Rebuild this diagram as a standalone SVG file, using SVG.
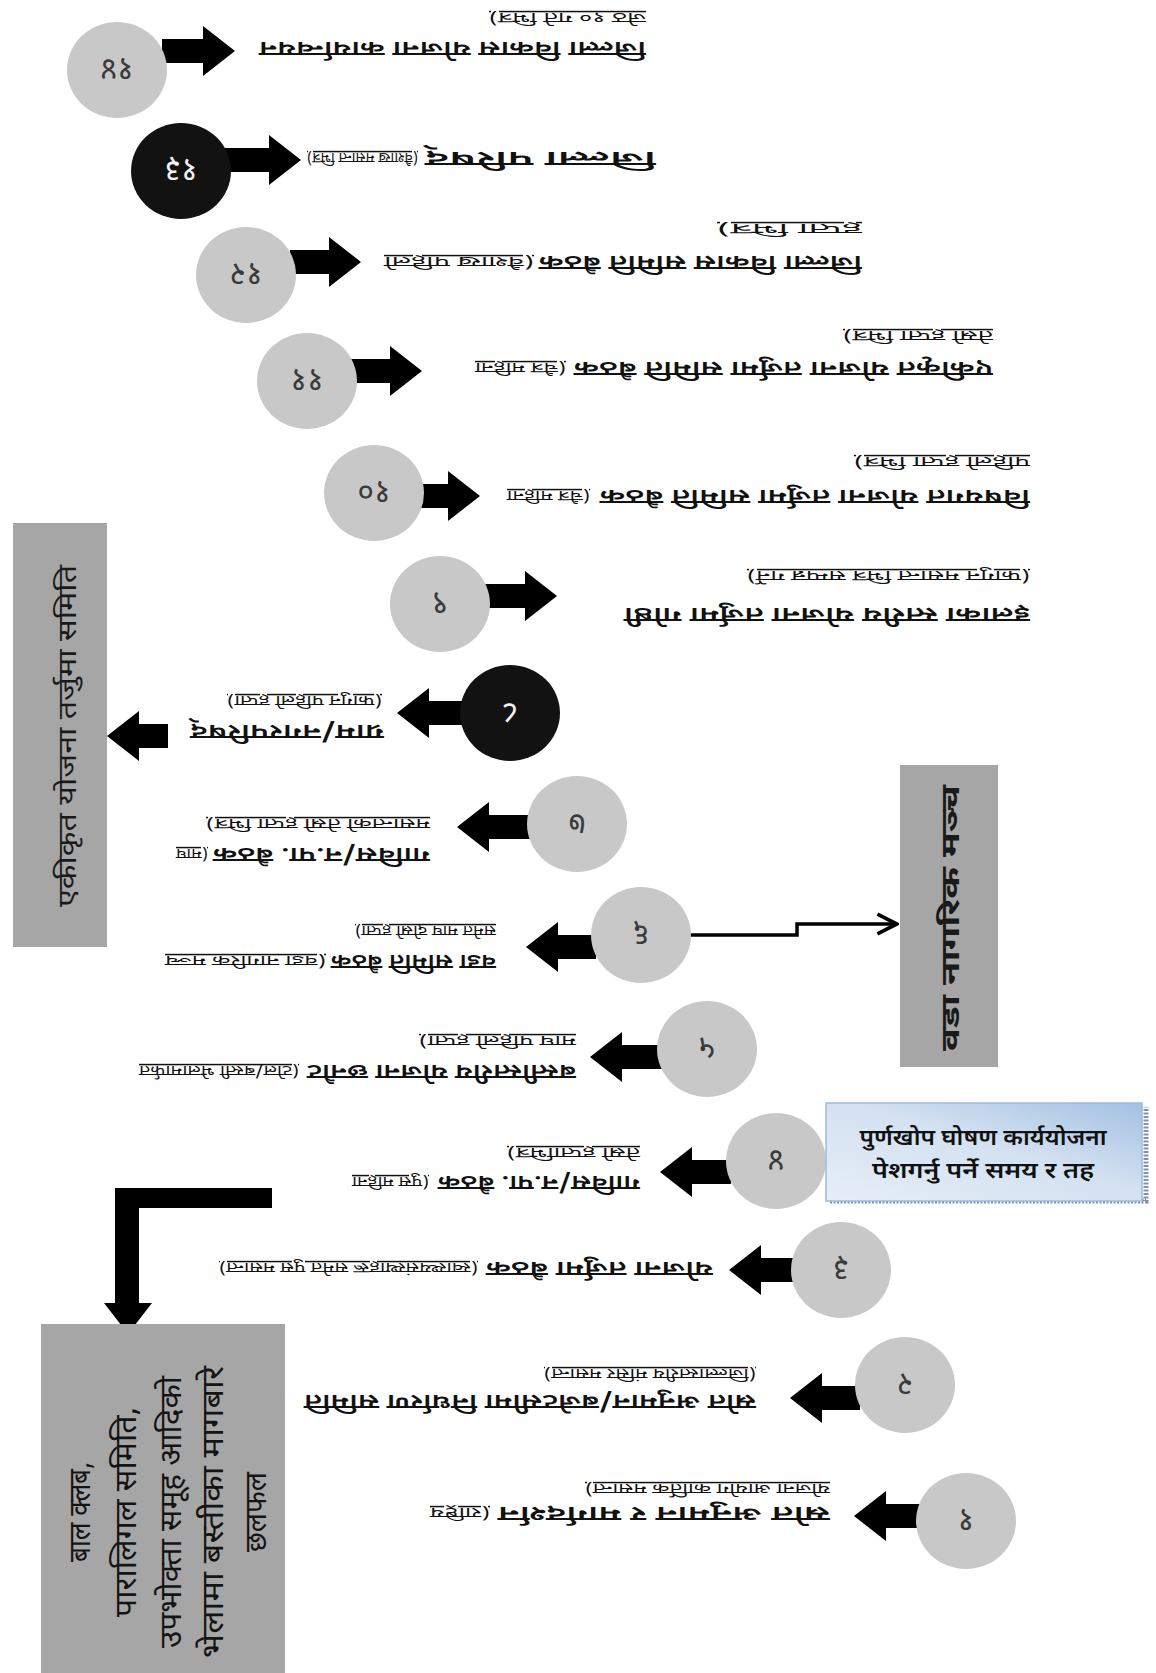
<svg xmlns="http://www.w3.org/2000/svg" width="1156" height="1673" viewBox="0 0 1156 1673">
<defs>
<style>
.dv{font-family:'Noto Sans Devanagari','Noto Serif Devanagari','Lohit Devanagari','FreeSans','Noto Sans',sans-serif;fill:#111}
.m{font-size:21px;font-weight:600}
.s{font-size:15px;text-decoration:underline}
.num{font-size:32px;text-anchor:middle;fill:#3a3a3a}
.numw{font-size:32px;text-anchor:middle;fill:#f2f2f2}
.c{fill:#c8c8c8}
.cb{fill:#121212}
.arr{fill:#000}
.box{fill:#a6a6a6}
.bt{font-size:26px;text-anchor:middle;fill:#1a1a1a}
.bc{font-size:30px;text-anchor:middle;fill:#141414}
</style>
<linearGradient id="blue" x1="0" y1="1" x2="1" y2="0">
<stop offset="0" stop-color="#e6eef7"/>
<stop offset="0.55" stop-color="#d3e1f1"/>
<stop offset="1" stop-color="#a3c0e3"/>
</linearGradient>
<marker id="chev" viewBox="0 0 20 20" refX="18" refY="10" markerWidth="7" markerHeight="7" orient="auto" markerUnits="strokeWidth">
<path d="M2,2 L18,10 L2,18" fill="none" stroke="#000" stroke-width="3"/>
</marker>
</defs>
<rect width="1156" height="1673" fill="#fff"/>

<g id="connectors">
<path class="arr" d="M854,1516 l32,-25 v13 H920 v24 H886 v13 Z"/>
<path class="arr" d="M790,1398 l32,-25 v13 H860 v24 H822 v13 Z"/>
<path class="arr" d="M729,1270 l32,-25 v13 H796 v24 H761 v13 Z"/>
<path class="arr" d="M660,1172 l32,-25 v13 H731 v24 H692 v13 Z"/>
<path class="arr" d="M590,1057 l32,-25 v13 H662 v24 H622 v13 Z"/>
<path class="arr" d="M526,947 l32,-25 v13 H596 v24 H558 v13 Z"/>
<path class="arr" d="M457,827 l32,-25 v13 H532 v24 H489 v13 Z"/>
<path class="arr" d="M397,713 l32,-25 v13 H465 v24 H429 v13 Z"/>
<path class="arr" d="M107,736 l32,-25 v13 H168 v24 H139 v13 Z"/>
<path class="arr" d="M557,596 l-32,-25 v13 H485 v24 H525 v13 Z"/>
<path class="arr" d="M480,496 l-32,-25 v13 H418 v24 H448 v13 Z"/>
<path class="arr" d="M422,371 l-32,-25 v13 H350 v24 H390 v13 Z"/>
<path class="arr" d="M361,262 l-32,-25 v13 H290 v24 H329 v13 Z"/>
<path class="arr" d="M301,160 l-32,-25 v13 H225 v24 H269 v13 Z"/>
<path class="arr" d="M235,51 l-32,-25 v13 H162 v24 H203 v13 Z"/>
<path d="M690,935 H797 V924 H897" fill="none" stroke="#000" stroke-width="3.5" marker-end="url(#chev)"/>
<path class="arr" d="M272,1188 H115 V1303 H104 L128,1334 L152,1303 H139 V1208 H272 Z"/>
</g>

<g id="step1">
<ellipse class="c" cx="966" cy="1521" rx="50" ry="48"/>
<text class="dv num" x="966" y="1532" transform="rotate(180 966 1521)">१</text>
<text class="dv m" x="326" y="166.5" textLength="332" lengthAdjust="spacingAndGlyphs" transform="rotate(180 578 836.5)">स्रोत अनुमान र मार्गदर्शन</text>
<text class="dv s" x="666" y="164.7" textLength="60" lengthAdjust="spacingAndGlyphs" transform="rotate(180 578 836.5)">(राष्ट्रिय</text>
<text class="dv s" x="326" y="188.7" textLength="245" lengthAdjust="spacingAndGlyphs" transform="rotate(180 578 836.5)">योजना आयोग कार्तिक मसान्त)</text>
</g>

<g id="step2">
<ellipse class="c" cx="905" cy="1385" rx="50" ry="48"/>
<text class="dv num" x="905" y="1396" transform="rotate(180 905 1385)">२</text>
<text class="dv m" x="400" y="278.5" textLength="452" lengthAdjust="spacingAndGlyphs" transform="rotate(180 578 836.5)">स्रोत अनुमान/बजेटसीमा निर्धारण समिति</text>
<text class="dv s" x="400" y="303.7" textLength="212" lengthAdjust="spacingAndGlyphs" transform="rotate(180 578 836.5)">(जिल्लास्तरीय मंसिर मसान्त)</text>
</g>

<g id="step3">
<ellipse class="c" cx="841" cy="1270" rx="50" ry="48"/>
<text class="dv num" x="841" y="1281" transform="rotate(180 841 1270)">३</text>
<text class="dv m" x="443" y="411.5" textLength="227" lengthAdjust="spacingAndGlyphs" transform="rotate(180 578 836.5)">योजना तर्जुमा बैठक</text>
<text class="dv s" x="678" y="409.7" textLength="259" lengthAdjust="spacingAndGlyphs" transform="rotate(180 578 836.5)">(स्वास्थ्यसंस्थाहरू समेत पुस मसान्त)</text>
</g>

<g id="step4">
<ellipse class="c" cx="776" cy="1161" rx="50" ry="48"/>
<text class="dv num" x="776" y="1172" transform="rotate(180 776 1161)">४</text>
<text class="dv m" x="516" y="497.5" textLength="202" lengthAdjust="spacingAndGlyphs" transform="rotate(180 578 836.5)">गाविस/न.पा. बैठक</text>
<text class="dv s" x="727" y="495.7" textLength="77" lengthAdjust="spacingAndGlyphs" transform="rotate(180 578 836.5)">(पुस महिना</text>
<text class="dv s" x="516" y="524.7" textLength="133" lengthAdjust="spacingAndGlyphs" transform="rotate(180 578 836.5)">तेस्रो हप्ताभित्र)</text>
</g>

<g id="step5">
<ellipse class="c" cx="707" cy="1049" rx="50" ry="48"/>
<text class="dv num" x="707" y="1060" transform="rotate(180 707 1049)">५</text>
<text class="dv m" x="580" y="608.5" textLength="269" lengthAdjust="spacingAndGlyphs" transform="rotate(180 578 836.5)">बस्तीस्तरीय योजना छनौट</text>
<text class="dv s" x="857" y="606.7" textLength="160" lengthAdjust="spacingAndGlyphs" transform="rotate(180 578 836.5)">(टोल/बस्ती भेलामार्फत</text>
<text class="dv s" x="580" y="636.7" textLength="157" lengthAdjust="spacingAndGlyphs" transform="rotate(180 578 836.5)">माघ पहिलो हप्ता)</text>
</g>

<g id="step6">
<ellipse class="c" cx="641" cy="935" rx="50" ry="48"/>
<text class="dv num" x="641" y="946" transform="rotate(180 641 935)">६</text>
<text class="dv m" x="660" y="718.5" textLength="165" lengthAdjust="spacingAndGlyphs" transform="rotate(180 578 836.5)">वडा समिति बैठक</text>
<text class="dv s" x="830" y="716.7" textLength="161" lengthAdjust="spacingAndGlyphs" transform="rotate(180 578 836.5)">(वडा नागरिक मञ्च</text>
<text class="dv s" x="660" y="746.7" textLength="141" lengthAdjust="spacingAndGlyphs" transform="rotate(180 578 836.5)">समेत माघ दोस्रो हप्ता)</text>
</g>

<g id="step7">
<ellipse class="c" cx="577" cy="824" rx="50" ry="48"/>
<text class="dv num" x="577" y="835" transform="rotate(180 577 824)">७</text>
<text class="dv m" x="726" y="825.5" textLength="217" lengthAdjust="spacingAndGlyphs" transform="rotate(180 578 836.5)">गाविस/न.पा. बैठक</text>
<text class="dv s" x="948" y="823.7" textLength="32" lengthAdjust="spacingAndGlyphs" transform="rotate(180 578 836.5)">(माघ</text>
<text class="dv s" x="726" y="853.7" textLength="224" lengthAdjust="spacingAndGlyphs" transform="rotate(180 578 836.5)">मसान्तको तेस्रो हप्ता भित्र)</text>
</g>

<g id="step8">
<ellipse class="cb" cx="510" cy="713" rx="50" ry="48"/>
<text class="dv numw" x="510" y="724" transform="rotate(180 510 713)">८</text>
<text class="dv m" x="772" y="948.5" textLength="194" lengthAdjust="spacingAndGlyphs" transform="rotate(180 578 836.5)">ग्राम/नगरपरिषद्</text>
<text class="dv s" x="774" y="976.7" textLength="155" lengthAdjust="spacingAndGlyphs" transform="rotate(180 578 836.5)">(फागुन पहिलो हप्ता)</text>
</g>

<g id="step9">
<ellipse class="c" cx="440" cy="604" rx="50" ry="48"/>
<text class="dv num" x="440" y="615" transform="rotate(180 440 604)">९</text>
<text class="dv m" x="126" y="1065.5" textLength="406" lengthAdjust="spacingAndGlyphs" transform="rotate(180 578 836.5)">इलाका स्तरीय योजना तर्जुमा गोष्ठी</text>
<text class="dv s" x="126" y="1101.7" textLength="283" lengthAdjust="spacingAndGlyphs" transform="rotate(180 578 836.5)">(फागुन मसान्त भित्र सम्पन्न गर्ने)</text>
</g>

<g id="step10">
<ellipse class="c" cx="374" cy="493" rx="50" ry="48"/>
<text class="dv num" x="374" y="504" transform="rotate(180 374 493)">१०</text>
<text class="dv m" x="126" y="1183.5" textLength="430" lengthAdjust="spacingAndGlyphs" transform="rotate(180 578 836.5)">विषयगत योजना तर्जुमा समिति बैठक</text>
<text class="dv s" x="566" y="1181.7" textLength="83" lengthAdjust="spacingAndGlyphs" transform="rotate(180 578 836.5)">(चैत्र महिना</text>
<text class="dv s" x="126" y="1215.7" textLength="176" lengthAdjust="spacingAndGlyphs" transform="rotate(180 578 836.5)">पहिलो हप्ता भित्र)</text>
</g>

<g id="step11">
<ellipse class="c" cx="307" cy="381" rx="50" ry="48"/>
<text class="dv num" x="307" y="392" transform="rotate(180 307 381)">११</text>
<text class="dv m" x="163" y="1311.5" textLength="419" lengthAdjust="spacingAndGlyphs" transform="rotate(180 578 836.5)">एकीकृत योजना तर्जुमा समिति बैठक</text>
<text class="dv s" x="590" y="1309.7" textLength="91" lengthAdjust="spacingAndGlyphs" transform="rotate(180 578 836.5)">(चैत्र महिना</text>
<text class="dv s" x="163" y="1341.7" textLength="150" lengthAdjust="spacingAndGlyphs" transform="rotate(180 578 836.5)">तेस्रो हप्ता भित्र)</text>
</g>

<g id="step12">
<ellipse class="c" cx="246" cy="275" rx="50" ry="48"/>
<text class="dv num" x="246" y="286" transform="rotate(180 246 275)">१२</text>
<text class="dv m" x="294" y="1417.5" textLength="323" lengthAdjust="spacingAndGlyphs" transform="rotate(180 578 836.5)">जिल्ला विकास समिति बैठक</text>
<text class="dv s" x="622" y="1415.7" textLength="150" lengthAdjust="spacingAndGlyphs" transform="rotate(180 578 836.5)">(वैशाख पहिलो</text>
<text class="dv s" x="294" y="1448.7" textLength="145" lengthAdjust="spacingAndGlyphs" transform="rotate(180 578 836.5)">हप्ता भित्र)</text>
</g>

<g id="step13">
<ellipse class="cb" cx="181" cy="171" rx="50" ry="48"/>
<text class="dv numw" x="181" y="182" transform="rotate(180 181 171)">१३</text>
<text class="dv m" x="500" y="1521.5" textLength="231" lengthAdjust="spacingAndGlyphs" transform="rotate(180 578 836.5)">जिल्ला परिषद्</text>
<text class="dv s" x="738" y="1519.7" textLength="111" lengthAdjust="spacingAndGlyphs" transform="rotate(180 578 836.5)">(वैशाख मसान्त भित्र)</text>
</g>

<g id="step14">
<ellipse class="c" cx="117" cy="70" rx="50" ry="48"/>
<text class="dv num" x="117" y="81" transform="rotate(180 117 70)">१४</text>
<text class="dv m" x="510" y="1631.5" textLength="387" lengthAdjust="spacingAndGlyphs" transform="rotate(180 578 836.5)">जिल्ला विकास योजना कार्यान्वयन</text>
<text class="dv s" x="510" y="1659.7" textLength="157" lengthAdjust="spacingAndGlyphs" transform="rotate(180 578 836.5)">जेठ १० गते भित्र)</text>
</g>

<g id="box-ekikrit">
<rect class="box" x="13" y="523" width="94" height="424"/>
<text class="dv bt" x="68" y="744" textLength="342" lengthAdjust="spacingAndGlyphs" transform="rotate(-90 68 736)">एकीकृत योजना तर्जुमा समिति</text>
</g>

<g id="box-ward-forum">
<rect class="box" x="900" y="765" width="98" height="302"/>
<text class="dv bt" x="949" y="928" font-size="30" font-weight="bold" textLength="266" lengthAdjust="spacingAndGlyphs" transform="rotate(-90 949 918)">वडा नागरिक मञ्च</text>
</g>

<g id="box-settlement">
<rect class="box" x="41" y="1324" width="244" height="349"/>
<text class="dv bc" x="80" y="1522" textLength="100" lengthAdjust="spacingAndGlyphs" transform="rotate(-90 80 1512)">बाल क्लब,</text>
<text class="dv bc" x="126" y="1522" textLength="210" lengthAdjust="spacingAndGlyphs" transform="rotate(-90 126 1512)">पारालिगल समिति,</text>
<text class="dv bc" x="171" y="1522" textLength="272" lengthAdjust="spacingAndGlyphs" transform="rotate(-90 171 1512)">उपभोक्ता समूह आदिको</text>
<text class="dv bc" x="213" y="1522" textLength="292" lengthAdjust="spacingAndGlyphs" transform="rotate(-90 213 1512)">भेलामा बस्तीका मागबारे</text>
<text class="dv bc" x="256" y="1522" textLength="80" lengthAdjust="spacingAndGlyphs" transform="rotate(-90 256 1512)">छलफल</text>
</g>

<g id="box-note">
<path d="M830,1201 H1146 V1107" fill="none" stroke="#8391a8" stroke-width="5" stroke-dasharray="2 1.5"/>
<rect x="826" y="1103" width="316" height="98" fill="url(#blue)" stroke="#9dbbe0" stroke-width="1.5"/>
<text class="dv" x="983" y="1145" font-size="22" font-weight="600" text-anchor="middle" textLength="247" lengthAdjust="spacingAndGlyphs" fill="#111">पुर्णखोप घोषण कार्ययोजना</text>
<text class="dv" x="983" y="1178" font-size="22" font-weight="600" text-anchor="middle" textLength="222" lengthAdjust="spacingAndGlyphs" fill="#111">पेशगर्नु पर्ने समय र तह</text>
</g>
</svg>
